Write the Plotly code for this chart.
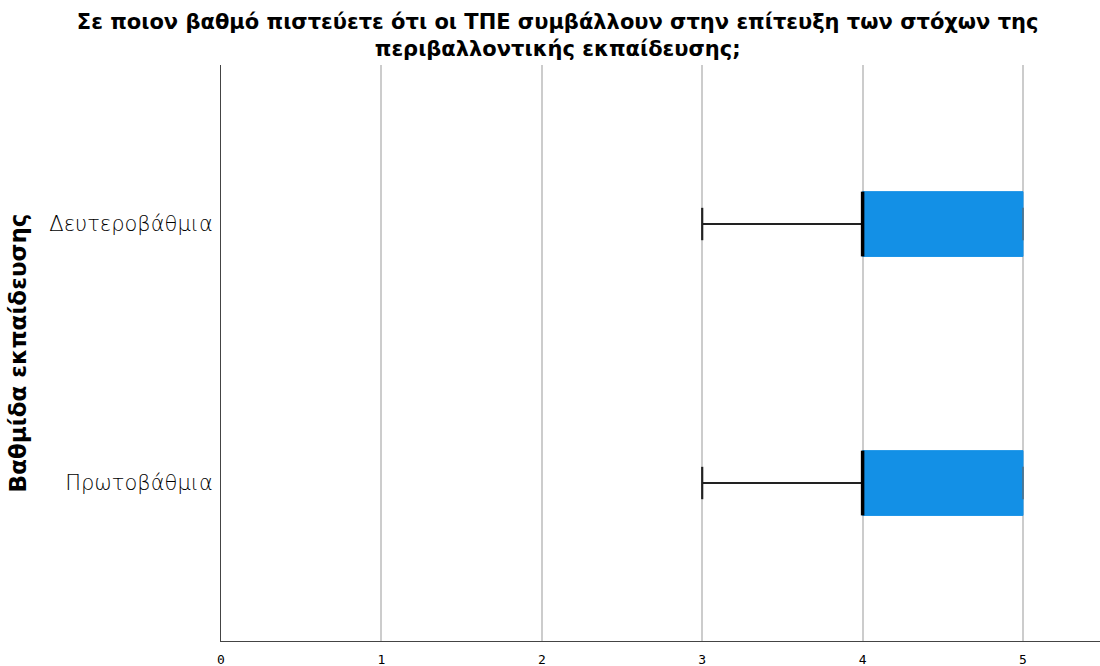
import plotly.graph_objects as go

# Box-plot summary per education level (scores 0-5)
categories = ["Πρωτοβάθμια", "Δευτεροβάθμια"]
minimum = [3, 3]
q1 = [4, 4]
median = [4, 4]
q3 = [5, 5]
maximum = [5, 5]
x_ticks = [0, 1, 2, 3, 4, 5]

title_text = ("Σε ποιον βαθμό πιστεύετε ότι οι ΤΠΕ συμβάλλουν στην επίτευξη των στόχων της<br>"
              "περιβαλλοντικής εκπαίδευσης;")
y_title = "Βαθμίδα εκπαίδευσης"

BLUE = "#1390E6"
BOX_W = 0.25
CAP_HALF = 0.0625

positions = list(range(len(categories)))

fig = go.Figure()

# Box body (whiskers drawn separately so they can carry their own style)
fig.add_trace(go.Box(
    orientation="h",
    y=positions,
    q1=q1, median=median, q3=q3,
    lowerfence=q1, upperfence=q3,
    width=BOX_W,
    fillcolor=BLUE,
    line=dict(color=BLUE, width=1),
    boxpoints=False,
    hoverinfo="skip",
    showlegend=False,
))

for i, pos in enumerate(positions):
    # lower whisker with cap
    fig.add_trace(go.Scatter(
        x=[minimum[i], q1[i], None, minimum[i], minimum[i]],
        y=[pos, pos, None, pos - CAP_HALF, pos + CAP_HALF],
        mode="lines", line=dict(color="#222222", width=2.2),
        hoverinfo="skip", showlegend=False,
    ))
    # upper whisker cap
    fig.add_trace(go.Scatter(
        x=[q3[i], maximum[i], None, maximum[i], maximum[i]],
        y=[pos, pos, None, pos - CAP_HALF, pos + CAP_HALF],
        mode="lines", line=dict(color="#666666", width=1.2),
        hoverinfo="skip", showlegend=False,
    ))
    # median line
    fig.add_trace(go.Scatter(
        x=[median[i], median[i]],
        y=[pos - BOX_W / 2, pos + BOX_W / 2],
        mode="lines", line=dict(color="#000000", width=3.5),
        hoverinfo="skip", showlegend=False,
    ))

fig.update_layout(
    width=1100, height=666,
    margin=dict(l=221, r=0, t=65, b=25),
    paper_bgcolor="white", plot_bgcolor="white",
    title=dict(
        text=title_text,
        x=0.507, xanchor="center", y=0.957, yanchor="top",
        font=dict(family="DejaVu Sans", size=21, color="#000000", weight="bold"),
    ),
    xaxis=dict(
        range=[0, 5.48],
        tickvals=x_ticks,
        ticktext=[str(t) for t in x_ticks],
        showgrid=True, gridcolor="#CCCCCC", gridwidth=1.5,
        zeroline=False,
        showline=True, linecolor="#444444", linewidth=1,
        ticks="", ticklen=0, ticklabelstandoff=6,
        tickfont=dict(family="DejaVu Sans Mono", size=13, color="#000000"),
    ),
    yaxis=dict(
        range=[-0.61, 1.614],
        tickvals=positions,
        ticktext=categories,
        showgrid=False, zeroline=False,
        showline=True, linecolor="#444444", linewidth=1,
        ticks="", ticklen=0, ticklabelstandoff=3,
        tickfont=dict(family="DejaVu Sans", size=21, color="#000000", weight=200),
        title=dict(
            text=y_title, standoff=16,
            font=dict(family="DejaVu Sans", size=23, color="#000000", weight="bold"),
        ),
    ),
)

fig.write_html("out.html")
